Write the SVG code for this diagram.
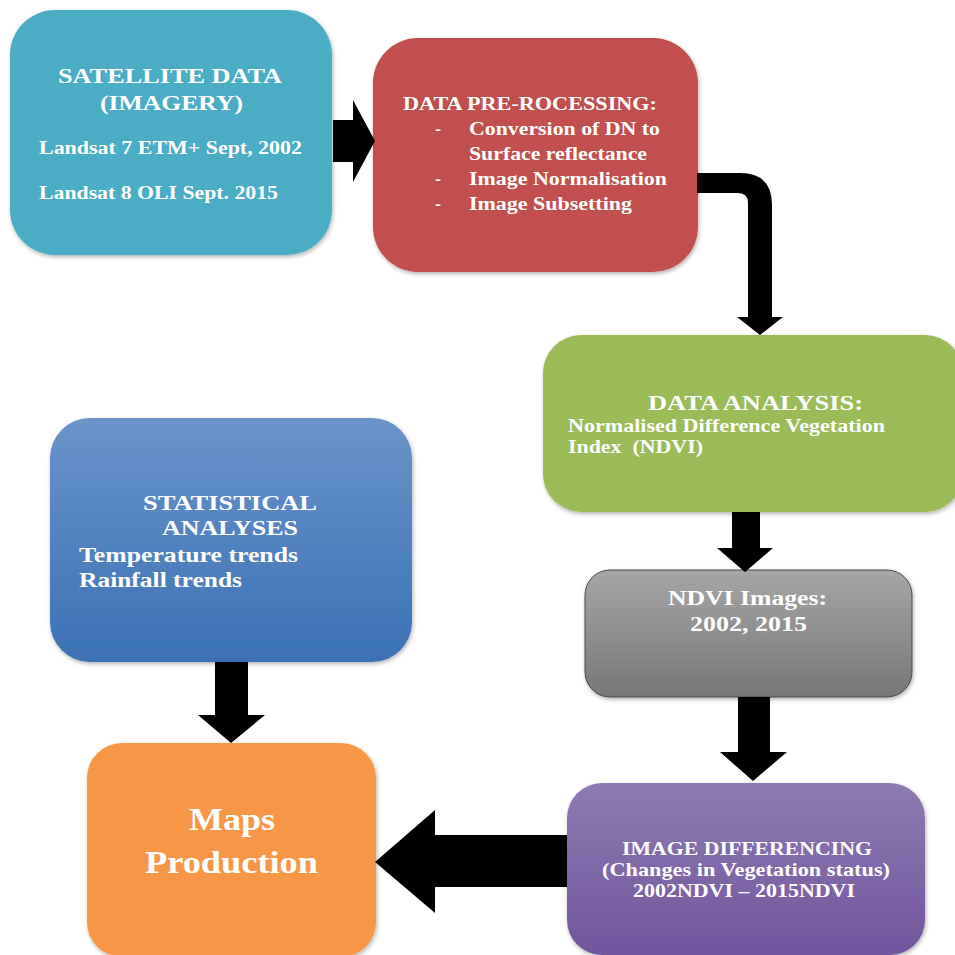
<svg xmlns="http://www.w3.org/2000/svg" width="955" height="955" viewBox="0 0 955 955">
<defs>
<linearGradient id="gBlue" x1="0" y1="0" x2="0" y2="1"><stop offset="0" stop-color="#6a94ca"/><stop offset="1" stop-color="#3a72b3"/></linearGradient>
<linearGradient id="gGray" x1="0" y1="0" x2="0" y2="1"><stop offset="0" stop-color="#a6a6a6"/><stop offset="1" stop-color="#777777"/></linearGradient>
<linearGradient id="gPurple" x1="0" y1="0" x2="0" y2="1"><stop offset="0" stop-color="#8d7bb3"/><stop offset="1" stop-color="#72559c"/></linearGradient>
<filter id="sh" x="-10%" y="-10%" width="120%" height="120%"><feDropShadow dx="1" dy="2" stdDeviation="2" flood-color="#000" flood-opacity="0.3"/></filter>
</defs>
<style>
text{font-family:"Liberation Serif","Times New Roman",serif;font-weight:bold;fill:#ffffff;}
.box{filter:url(#sh);}
.arrow{fill:#000000;}
</style>
<rect width="955" height="955" fill="#ffffff"/>

<g id="satellite">
<rect class="box" x="10" y="10" width="322" height="245" rx="45" fill="#4bacc6"/>
<text x="58" y="83" font-size="22" textLength="224" lengthAdjust="spacingAndGlyphs">SATELLITE DATA</text>
<text x="100" y="110" font-size="22" textLength="143" lengthAdjust="spacingAndGlyphs">(IMAGERY)</text>
<text x="39" y="154" font-size="18.5" textLength="263" lengthAdjust="spacingAndGlyphs">Landsat 7 ETM+ Sept, 2002</text>
<text x="39" y="199" font-size="18.5" textLength="239" lengthAdjust="spacingAndGlyphs">Landsat 8 OLI Sept. 2015</text>
</g>

<g id="preprocessing">
<rect class="box" x="373" y="38" width="325" height="234" rx="45" fill="#c0504d"/>
<text x="403" y="110" font-size="19" textLength="254" lengthAdjust="spacingAndGlyphs">DATA PRE-ROCESSING:</text>
<text x="435" y="135" font-size="18">-</text>
<text x="469" y="135" font-size="18.5" textLength="191" lengthAdjust="spacingAndGlyphs">Conversion of DN to</text>
<text x="469" y="160" font-size="18.5" textLength="178" lengthAdjust="spacingAndGlyphs">Surface reflectance</text>
<text x="435" y="185" font-size="18">-</text>
<text x="469" y="185" font-size="18.5" textLength="198" lengthAdjust="spacingAndGlyphs">Image Normalisation</text>
<text x="435" y="210" font-size="18">-</text>
<text x="469" y="210" font-size="18.5" textLength="163" lengthAdjust="spacingAndGlyphs">Image Subsetting</text>
</g>

<g id="analysis">
<rect class="box" x="543" y="335" width="420" height="177" rx="38" fill="#9bbb59"/>
<text x="648" y="410" font-size="21" textLength="215" lengthAdjust="spacingAndGlyphs">DATA ANALYSIS:</text>
<text x="568" y="432" font-size="18" textLength="317" lengthAdjust="spacingAndGlyphs">Normalised Difference Vegetation</text>
<text x="568" y="453" font-size="18" textLength="135" lengthAdjust="spacingAndGlyphs" xml:space="preserve">Index  (NDVI)</text>
</g>

<g id="ndvi-images">
<rect class="box" x="585" y="570" width="327" height="127" rx="25" fill="url(#gGray)" stroke="#4a4a4a" stroke-width="1"/>
<text x="668" y="605" font-size="20" textLength="159" lengthAdjust="spacingAndGlyphs">NDVI Images:</text>
<text x="690" y="631" font-size="20" textLength="117" lengthAdjust="spacingAndGlyphs">2002, 2015</text>
</g>

<g id="differencing">
<rect class="box" x="567" y="783" width="358" height="172" rx="35" fill="url(#gPurple)"/>
<text x="622" y="855" font-size="19" textLength="250" lengthAdjust="spacingAndGlyphs">IMAGE DIFFERENCING</text>
<text x="602" y="876" font-size="19" textLength="288" lengthAdjust="spacingAndGlyphs">(Changes in Vegetation status)</text>
<text x="633" y="897" font-size="19" textLength="222" lengthAdjust="spacingAndGlyphs">2002NDVI – 2015NDVI</text>
</g>

<g id="statistical">
<rect class="box" x="50" y="418" width="362" height="244" rx="40" fill="url(#gBlue)"/>
<text x="143" y="510" font-size="21" textLength="174" lengthAdjust="spacingAndGlyphs">STATISTICAL</text>
<text x="162" y="535" font-size="21" textLength="136" lengthAdjust="spacingAndGlyphs">ANALYSES</text>
<text x="79" y="562" font-size="21" textLength="219" lengthAdjust="spacingAndGlyphs">Temperature trends</text>
<text x="79" y="587" font-size="21" textLength="163" lengthAdjust="spacingAndGlyphs">Rainfall trends</text>
</g>

<g id="maps">
<rect class="box" x="87" y="743" width="289" height="214" rx="35" fill="#f79646"/>
<text x="189" y="830" font-size="31" textLength="86" lengthAdjust="spacingAndGlyphs">Maps</text>
<text x="145" y="873" font-size="31" textLength="173" lengthAdjust="spacingAndGlyphs">Production</text>
</g>

<g id="connectors">
<polygon class="arrow" points="333,120 353,120 353,100 375,141 353,182 353,162 333,162"/>
<path class="arrow" d="M697,173 L740,173 Q772,173 772,205 L772,317 L783,317 L760,335 L737,317 L748,317 L748,203 Q748,193 738,193 L697,193 Z"/>
<polygon class="arrow" points="732,512 760,512 760,548 773,548 745,572 717,548 732,548"/>
<polygon class="arrow" points="738,697 770,697 770,752 787,752 753,781 720,752 738,752"/>
<polygon class="arrow" points="215,662 248,662 248,715 265,715 231,743 198,715 215,715"/>
<polygon class="arrow" points="567,835 435,835 435,810 375,862 435,913 435,887 567,887"/>
</g>
</svg>
